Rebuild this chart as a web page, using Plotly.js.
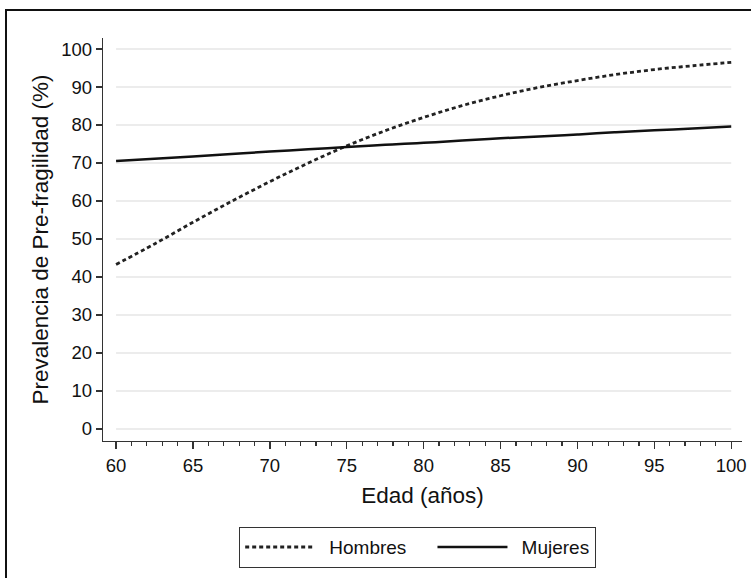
<!DOCTYPE html>
<html>
<head>
<meta charset="utf-8">
<script src="https://cdn.plot.ly/plotly-3.0.1.min.js"></script>
<style>
  html, body { margin: 0; padding: 0; background: #fff; }
  #wrap { position: relative; width: 751px; height: 578px; overflow: hidden; }
  #chart { position: absolute; left: 0; top: 0; width: 751px; height: 578px; }
  #frame { position: absolute; left: 5px; top: 9px; width: 800px; height: 600px;
           border-left: 2px solid #111; border-top: 2px solid #111; pointer-events: none; }
</style>
</head>
<body>
<div id="wrap">
  <div id="chart"></div>
  <div id="frame"></div>
</div>
<script>
// Data
const edad = [60, 62.5, 65, 67.5, 70, 72.5, 75, 77.5, 80, 82.5, 85, 87.5, 90, 92.5, 95, 97.5, 100];
const hombres = [43.3, 48.7, 54.4, 59.9, 65.1, 70.0, 74.5, 78.5, 82.0, 85.1, 87.7, 89.9, 91.7, 93.3, 94.6, 95.6, 96.5];
const mujeres = [70.5, 71.1, 71.7, 72.4, 73.0, 73.6, 74.2, 74.8, 75.3, 75.9, 76.5, 77.0, 77.5, 78.1, 78.6, 79.1, 79.6];
const yTicks = [0, 10, 20, 30, 40, 50, 60, 70, 80, 90, 100];
const xTicks = [60, 65, 70, 75, 80, 85, 90, 95, 100];
const seriesNames = ["Hombres", "Mujeres"];
const xTitle = "Edad (años)";
const yTitle = "Prevalencia de Pre-fragilidad (%)";

const font = "Liberation Sans, Arial, sans-serif";
const lead = "\u00a0\u2009";
const trail = "\u00a0\u00a0\u00a0\u00a0";

const traces = [
  { x: edad, y: hombres, name: lead + seriesNames[0] + trail, type: "scatter", mode: "lines",
    line: { color: "#222", width: 2.8, dash: "4px,3px", shape: "spline" } },
  { x: edad, y: mujeres, name: lead + seriesNames[1], type: "scatter", mode: "lines",
    line: { color: "#111", width: 2.5, shape: "spline" } }
];

const gridShapes = yTicks.map(v => ({
  type: "line", xref: "x", yref: "y", x0: xTicks[0], x1: xTicks[xTicks.length - 1], y0: v, y1: v,
  line: { color: "#e6e6e6", width: 1.3 }, layer: "below"
}));

const layout = {
  width: 751, height: 578,
  paper_bgcolor: "#fff", plot_bgcolor: "#fff",
  margin: { l: 103, r: 9, t: 38, b: 137 },
  font: { family: font, color: "#111", size: 18 },
  showlegend: true,
  legend: {
    orientation: "h", x: 0.492, xanchor: "center", y: -0.213, yanchor: "top",
    bordercolor: "#333", borderwidth: 1.3, font: { family: font, size: 19, color: "#111" },
    itemwidth: 70, tracegroupgap: 0
  },
  xaxis: {
    range: [59.15, 100.7], tickvals: xTicks, ticktext: xTicks.map(String),
    showgrid: false, zeroline: false, showline: true, linecolor: "#333", linewidth: 1.3,
    ticks: "outside", ticklen: 7, tickwidth: 1.3, tickcolor: "#333",
    minor: { dtick: 1, tick0: 60, ticks: "outside", ticklen: 4, tickwidth: 1.2, tickcolor: "#333", showgrid: false },
    tickfont: { family: font, size: 18.5, color: "#111" },
    title: { text: xTitle, font: { family: font, size: 22.5, color: "#111" }, standoff: 12 }
  },
  yaxis: {
    range: [-3.16, 102.9], tickvals: yTicks, ticktext: yTicks.map(String),
    showgrid: false, zeroline: false, showline: true, linecolor: "#333", linewidth: 1.3,
    ticks: "outside", ticklen: 6, tickwidth: 1.3, tickcolor: "#333",
    tickfont: { family: font, size: 18.5, color: "#111" },
    title: { text: yTitle, font: { family: font, size: 22.5, color: "#111" }, standoff: 6 }
  },
  shapes: gridShapes
};

Plotly.newPlot("chart", traces, layout, { staticPlot: true, displayModeBar: false });
</script>
</body>
</html>
